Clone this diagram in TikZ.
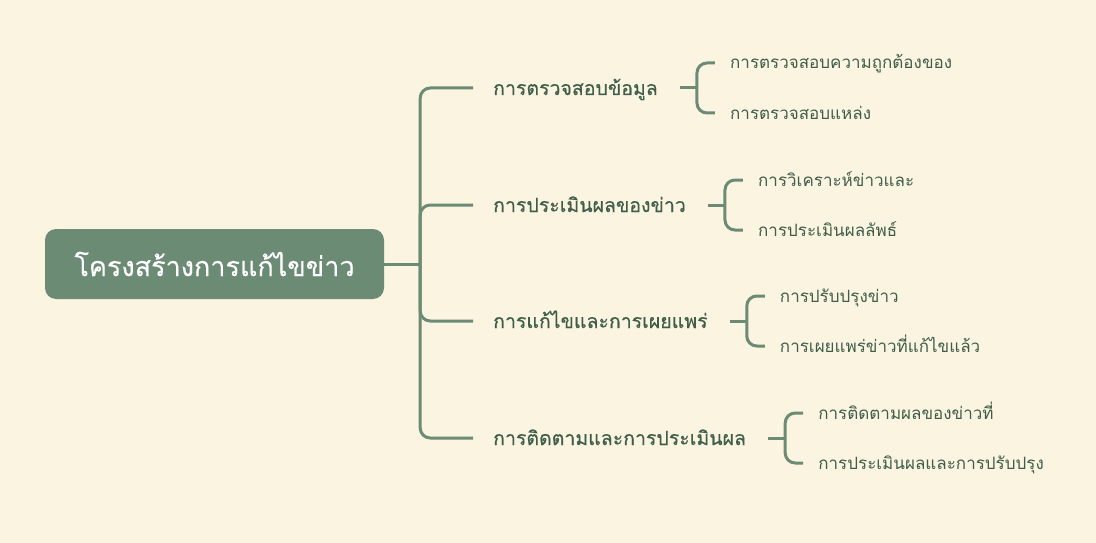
\documentclass[tikz,border=0pt]{standalone}
\usepackage{fontspec}
\newfontfamily\thaifont[Script=Thai]{Loma}
\newfontfamily\thaiheavy[Script=Thai,FakeBold=0.4]{Loma}
\usetikzlibrary{calc,positioning}
\definecolor{paper}{HTML}{FBF4E0}
\definecolor{sage}{HTML}{6B8B75}
\definecolor{ink}{HTML}{3F5E4A}
\tikzset{
  link/.style={draw=sage,line width=3pt,rounded corners=10pt},
  rootbox/.style={fill=sage,rounded corners=11pt,text=white,font=\thaiheavy\fontsize{27}{32}\selectfont,
    minimum width=339pt,minimum height=70pt,inner sep=0pt},
  topic/.style={anchor=west,text=ink,font=\thaiheavy\fontsize{19.5}{24}\selectfont,inner xsep=20pt,inner ysep=2pt,
    text height=15pt,text depth=1pt},
  leaf/.style={anchor=west,text=ink,font=\thaifont\fontsize{17}{21}\selectfont,inner xsep=15pt,inner ysep=2pt,
    text height=13pt,text depth=1pt}
}
\begin{document}
\begin{tikzpicture}[x=1pt,y=-1pt]
\fill[paper] (0,0) rectangle (1096,543);
\useasboundingbox (0,0) rectangle (1096,543);
% root
\node[rootbox] (root) at (214.5,264) {โครงสร้างการแก้ไขข่าว};
% first level
\node[topic] (chk) at (473,88) {การตรวจสอบข้อมูล};
\node[topic] (eva) at (473,205) {การประเมินผลของข่าว};
\node[topic] (fix) at (473,321) {การแก้ไขและการเผยแพร่};
\node[topic] (mon) at (473,438) {การติดตามและการประเมินผล};
\draw[link] (root.east) -- ++(36,0) coordinate (hub);
\draw[link] (chk.west) -| (hub) |- (mon.west);
\draw[link] (eva.west) -| (hub) |- (fix.west);
% second level
\node[leaf] (chk1) at ($(chk.east)+(37,-25)$) {การตรวจสอบความถูกต้องของ};
\node[leaf] (chk2) at ($(chk.east)+(37,25)$) {การตรวจสอบแหล่ง};
\node[leaf] (eva1) at ($(eva.east)+(37,-25)$) {การวิเคราะห์ข่าวและ};
\node[leaf] (eva2) at ($(eva.east)+(37,25)$) {การประเมินผลลัพธ์};
\node[leaf] (fix1) at ($(fix.east)+(37,-25)$) {การปรับปรุงข่าว};
\node[leaf] (fix2) at ($(fix.east)+(37,25)$) {การเผยแพร่ข่าวที่แก้ไขแล้ว};
\node[leaf] (mon1) at ($(mon.east)+(37,-25)$) {การติดตามผลของข่าวที่};
\node[leaf] (mon2) at ($(mon.east)+(37,25)$) {การประเมินผลและการปรับปรุง};
\foreach \p in {chk,eva,fix,mon}{
  \draw[link] ([xshift=2pt]\p.east) -- ++(17,0) coordinate (\p-fork);
  \draw[link] (\p1.west) -| (\p-fork) |- (\p2.west);
}
\end{tikzpicture}
\end{document}
